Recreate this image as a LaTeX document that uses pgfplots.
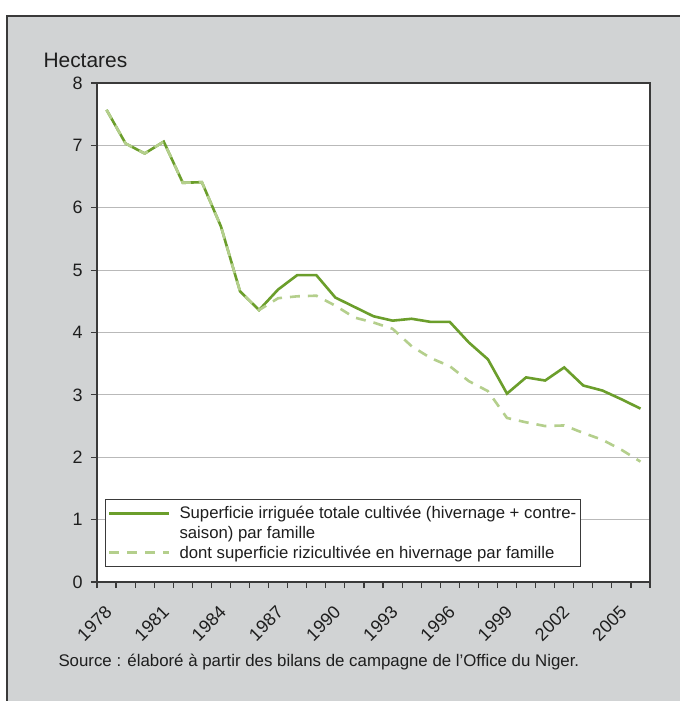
\documentclass[border=0pt]{standalone}
\usepackage{pgfplots}
\pgfplotsset{compat=1.18}
\usepackage{fontspec}
\setmainfont{Liberation Sans}

\definecolor{panel}{HTML}{D1D3D4}
\definecolor{framecol}{HTML}{3A3A3A}
\definecolor{gridcol}{HTML}{B9B9B9}
\definecolor{textcol}{HTML}{1E1E1E}
\definecolor{totalgreen}{HTML}{6B9E2B}
\definecolor{rizgreen}{HTML}{B4CF8C}

% legend sample for the two-line entry: raised to the level of the first line
\pgfplotsset{
    twoline legend/.style={legend image code/.code={
        \draw[##1] (0bp,10bp) -- (60bp,10bp);}},
}

\begin{document}
\begin{tikzpicture}
\useasboundingbox (-97bp,-119bp) rectangle (583bp,582bp);
\fill[white] (-97bp,-119bp) rectangle (583bp,582bp);
\fill[panel] (-90bp,-119bp) rectangle (583bp,566bp);
\draw[framecol, line width=1.5bp] (-90bp,-119bp) -- (-90bp,566bp) -- (583bp,566bp);

\begin{axis}[
    at={(0,0)}, anchor=south west,
    scale only axis,
    width=553bp, height=499bp,
    xmin=-0.5, xmax=28.5,
    ymin=0, ymax=8,
    axis background/.style={fill=white},
    axis line style={framecol, line width=1.2bp},
    tick align=outside,
    xtick pos=bottom, ytick pos=left,
    major tick length=6bp,
    tick style={framecol, line width=1.2bp},
    xtick={-0.5,0.5,...,28.5},
    xticklabels={},
    extra x ticks={0,3,...,27},
    extra x tick labels={1978,1981,1984,1987,1990,1993,1996,1999,2002,2005},
    extra x tick style={major tick length=0pt,
        tick label style={font=\fontsize{18}{21}\selectfont, text=textcol,
            xshift=-2.5bp, yshift=-18bp, rotate=45, anchor=north east}},
    ytick={0,1,...,8},
    yticklabels={0,1,2,3,4,5,6,7,8},
    yticklabel style={font=\fontsize{18}{21}\selectfont, text=textcol, xshift=-5bp},
    ymajorgrids,
    grid style={gridcol, line width=1.2bp},
    legend style={at={(0.0145,0.030)}, anchor=south west,
        draw=framecol, line width=0.8bp, fill=white,
        font=\fontsize{16.8}{20}\selectfont,
        nodes={align=left, text=textcol},
        inner xsep=2.5bp, inner ysep=5bp, row sep=1.5bp,
        /tikz/every odd column/.append style={column sep=7bp}},
    legend cell align=left,
    legend image code/.code={\draw[#1] (0bp,0bp) -- (60bp,0bp);},
]
\addplot[totalgreen, line width=2.6bp, twoline legend] coordinates {
    (0,7.57) (1,7.03) (2,6.87) (3,7.06) (4,6.40) (5,6.41) (6,5.70)
    (7,4.66) (8,4.36) (9,4.69) (10,4.92) (11,4.92) (12,4.56) (13,4.41)
    (14,4.26) (15,4.19) (16,4.22) (17,4.17) (18,4.17) (19,3.84) (20,3.57)
    (21,3.02) (22,3.28) (23,3.23) (24,3.44) (25,3.15) (26,3.07) (27,2.93)
    (28,2.78)
};
\addlegendentry{Superficie irriguée totale cultivée (hivernage + contre-\\saison) par famille}

\addplot[rizgreen, line width=2.6bp, dash pattern=on 10bp off 8bp] coordinates {
    (0,7.57) (1,7.03) (2,6.87) (3,7.06) (4,6.40) (5,6.41) (6,5.70)
    (7,4.66) (8,4.36) (9,4.55) (10,4.58) (11,4.59) (12,4.43) (13,4.24)
    (14,4.16) (15,4.06) (16,3.78) (17,3.59) (18,3.46) (19,3.22) (20,3.06)
    (21,2.63) (22,2.56) (23,2.50) (24,2.51) (25,2.39) (26,2.28) (27,2.12)
    (28,1.93)
};
\addlegendentry{dont superficie rizicultivée en hivernage par famille}
\end{axis}

\node[anchor=west, text=textcol, font=\fontsize{21}{24}\selectfont] at (-57bp,522bp) {Hectares};
\node[anchor=west, text=textcol, font=\fontsize{16.9}{20}\selectfont] at (-42bp,-80bp)
    {Source : élaboré à partir des bilans de campagne de l'Office du Niger.};
\end{tikzpicture}
\end{document}
